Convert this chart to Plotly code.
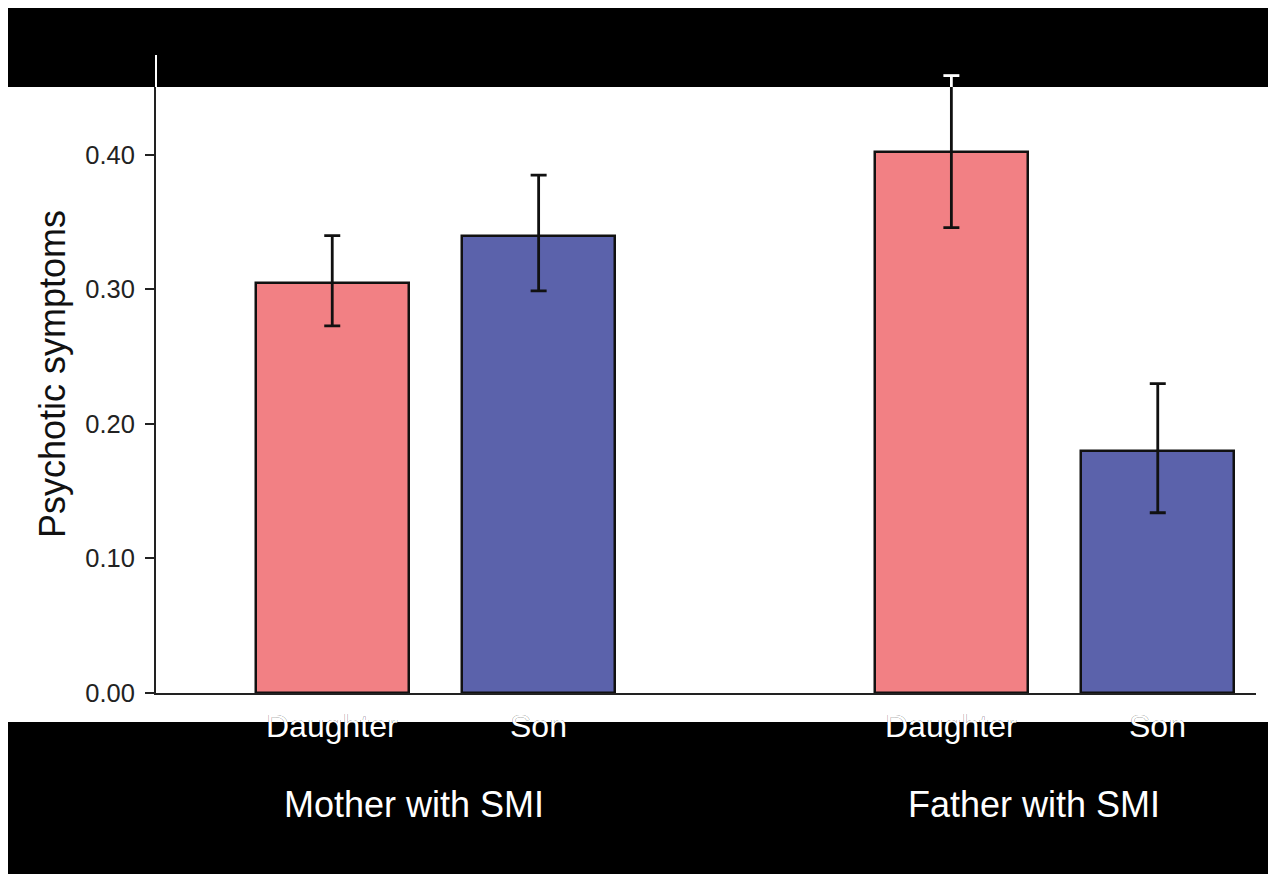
import plotly.graph_objects as go

# ---- data ----
groups = ["Mother with SMI", "Father with SMI"]
members = ["Daughter", "Son"]
values = {
    "Daughter": [0.305, 0.402],
    "Son": [0.340, 0.180],
}
err_upper = {
    "Daughter": [0.340, 0.459],
    "Son": [0.385, 0.230],
}
err_lower = {
    "Daughter": [0.273, 0.346],
    "Son": [0.299, 0.134],
}
colors = {"Daughter": "#F28084", "Son": "#5B62AB"}
y_ticks = [0.0, 0.1, 0.2, 0.3, 0.4]
y_title = "Psychotic symptoms"

# ---- layout constants (figure pixels; page adds an 8px body margin) ----
W, H = 1268, 866
ML, MR, MT, MB = 148, 20, 47, 181
plot_w = W - ML - MR
plot_h = H - MT - MB
Y_MAX = 0.4743
GROUP_STRIDE = 3
BAR_W = 0.74
X_RANGE = [-0.854, 4.476]
FONT = "Liberation Sans, Arial, sans-serif"

def px_to_paper_x(px):
    return (px - ML) / plot_w

def px_to_paper_y(py):
    return (H - MB - py) / plot_h

fig = go.Figure()

positions = {}
for mi, m in enumerate(members):
    xs = [gi * GROUP_STRIDE + mi for gi in range(len(groups))]
    positions[m] = xs
    vals = values[m]
    plus = [u - v for u, v in zip(err_upper[m], vals)]
    minus = [v - l for l, v in zip(err_lower[m], vals)]
    fig.add_trace(go.Bar(
        x=xs, y=vals, width=BAR_W, name=m,
        marker=dict(color=colors[m], line=dict(color="#111111", width=2.5)),
        error_y=dict(type="data", symmetric=False, array=plus, arrayminus=minus,
                     color="#111111", thickness=2.8, width=8),
        showlegend=False,
    ))

# ---- black bands (inverted regions of the original image) ----
band_top_y0 = px_to_paper_y(79)
shapes = [
    dict(type="rect", xref="paper", yref="paper", layer="above",
         x0=px_to_paper_x(0), x1=px_to_paper_x(W + 5),
         y0=band_top_y0, y1=px_to_paper_y(-5),
         fillcolor="black", line=dict(width=0)),
    # y-axis line seen through the band (inverted -> white)
    dict(type="line", xref="paper", yref="paper", layer="above",
         x0=0, x1=0, y0=band_top_y0, y1=1.0,
         line=dict(color="white", width=2)),
]
band_val = band_top_y0 * Y_MAX
for m in members:
    for x, u in zip(positions[m], err_upper[m]):
        if u > band_val:
            shapes.append(dict(type="line", xref="x", yref="y", layer="above",
                               x0=x, x1=x, y0=band_val, y1=u,
                               line=dict(color="white", width=2.8)))
            shapes.append(dict(type="line", xref="x", yref="y", layer="above",
                               xsizemode="pixel", xanchor=x, x0=-8, x1=8,
                               y0=u, y1=u,
                               line=dict(color="white", width=2.8)))

annotations = []
TICK_FONT = dict(family=FONT, size=32)
TICK_YSHIFT = -13
# black tick labels (visible over white)
for m in members:
    for x in positions[m]:
        annotations.append(dict(x=x, y=0, xref="x", yref="paper", text=m,
                                showarrow=False, yanchor="top", yshift=TICK_YSHIFT,
                                font=dict(TICK_FONT, color="#111111")))
# bottom black band as an annotation box
annotations.append(dict(x=px_to_paper_x(0), y=px_to_paper_y(714), xref="paper", yref="paper",
                        xanchor="left", yanchor="top", text=" ", showarrow=False,
                        width=W + 10, height=H - 714 + 10, bgcolor="black",
                        borderpad=0, borderwidth=0))
# white tick labels (visible over black)
for m in members:
    for x in positions[m]:
        annotations.append(dict(x=x, y=0, xref="x", yref="paper", text=m,
                                showarrow=False, yanchor="top", yshift=TICK_YSHIFT,
                                font=dict(TICK_FONT, color="white")))
# group labels
for gi, g in enumerate(groups):
    cx = gi * GROUP_STRIDE + (len(members) - 1) / 2
    annotations.append(dict(x=cx, y=px_to_paper_y(796), xref="x", yref="paper", text=g,
                            showarrow=False, yanchor="middle", xshift=-21,
                            font=dict(family=FONT, size=36, color="white")))

fig.update_layout(
    width=W, height=H,
    margin=dict(l=ML, r=MR, t=MT, b=MB),
    paper_bgcolor="white", plot_bgcolor="white",
    font=dict(family=FONT, color="#111111"),
    shapes=shapes, annotations=annotations,
    bargap=0,
)
fig.update_xaxes(range=X_RANGE, showline=True, linecolor="#222222", linewidth=2,
                 showticklabels=False, ticks="", showgrid=False, zeroline=False)
fig.update_yaxes(range=[0, Y_MAX], showline=True, linecolor="#222222", linewidth=2,
                 tickvals=y_ticks, tickformat=".2f", ticks="outside", ticklen=9,
                 tickwidth=2, tickcolor="#222222", showgrid=False, zeroline=False,
                 ticklabelstandoff=5,
                 tickfont=dict(size=25.5, color="#222222"),
                 title=dict(text=y_title, font=dict(size=36, color="#111111"), standoff=9))

fig.write_html("out.html")
